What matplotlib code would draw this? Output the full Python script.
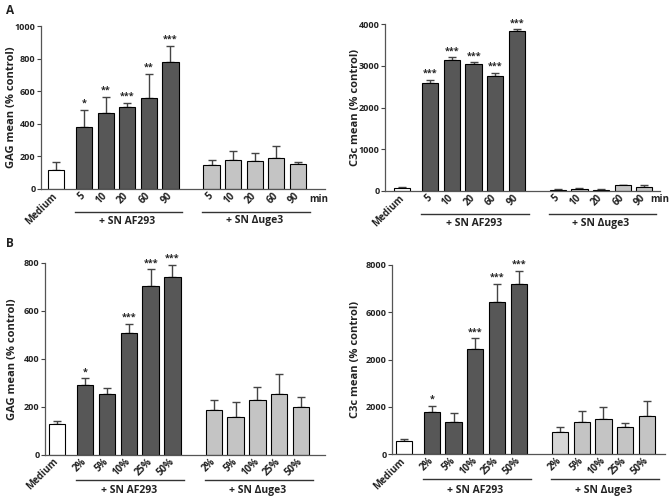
import matplotlib
matplotlib.use("Agg")
import matplotlib.pyplot as plt
import matplotlib.transforms as mtransforms
import numpy as np

plt.rcParams['font.family'] = ['Open Sans', 'DejaVu Sans']
plt.rcParams['font.weight'] = 'bold'
plt.rcParams['axes.labelweight'] = 'bold'

# ---- data ----
time_labels = ['5', '10', '20', '60', '90']
dose_labels = ['2%', '5%', '10%', '25%', '50%']

a_gag_med, a_gag_med_err = 117, 51
a_gag_af = [382, 464, 501, 556, 779]
a_gag_af_err = [103, 102, 29, 152, 98]
a_gag_uge = [145, 178, 174, 192, 153]
a_gag_uge_err = [31, 53, 45, 72, 11]
a_gag_stars = ['*', '**', '***', '**', '***']

a_c3c_med, a_c3c_med_err = 80, 25
a_c3c_af = [2600, 3140, 3040, 2750, 3830]
a_c3c_af_err = [60, 70, 50, 85, 50]
a_c3c_uge = [20, 45, 30, 135, 105]
a_c3c_uge_err = [25, 15, 10, 20, 40]
a_c3c_stars = ['***', '***', '***', '***', '***']

b_gag_med, b_gag_med_err = 130, 12
b_gag_af = [290, 253, 508, 705, 740]
b_gag_af_err = [28, 27, 38, 67, 50]
b_gag_uge = [187, 157, 229, 253, 200]
b_gag_uge_err = [42, 62, 53, 82, 42]
b_gag_stars = ['*', '', '***', '***', '***']

b_c3c_med, b_c3c_med_err = 540, 110
b_c3c_af = [1780, 1370, 4450, 6440, 7190]
b_c3c_af_err = [250, 350, 440, 750, 570]
b_c3c_uge = [930, 1350, 1500, 1140, 1610]
b_c3c_uge_err = [200, 465, 480, 170, 635]
b_c3c_stars = ['*', '', '***', '***', '***']

DARK = '#575757'
LIGHT = '#c4c4c4'
TXT = '#222222'
W, H = 669, 499

fig = plt.figure(figsize=(W / 100, H / 100), dpi=100)


def px_axes(left, right, bottom, top):
    # pixel box -> figure fraction
    return fig.add_axes([left / W, (H - bottom) / H, (right - left) / W, (bottom - top) / H])


def panel(box, xlim, med, med_err, af, af_err, uge, uge_err, stars, ylim, yticks,
          ylabel, label_x, cond, unit_x=None, ytlabels=None, line_y=0, text_y=0,
          uge_colors=None):
    ax = px_axes(*box)
    af_x = 1.3 + np.arange(len(af))
    uge_x = 7.2 + np.arange(len(uge))
    bw = 0.75
    ax.bar([0], [med], bw, color='white', edgecolor='black', lw=0.8, zorder=2)
    ax.bar(af_x, af, bw, color=DARK, edgecolor='black', lw=0.8, zorder=2)
    ax.bar(uge_x, uge, bw, color=uge_colors or LIGHT, edgecolor='black', lw=0.8, zorder=2)
    allx = np.r_[0, af_x, uge_x]
    ally = np.r_[med, af, uge]
    alle = np.r_[med_err, af_err, uge_err]
    ax.errorbar(allx, ally, yerr=[np.zeros_like(alle), alle], fmt='none',
                ecolor='#444444', elinewidth=1, capsize=3, capthick=1, zorder=1)
    for x, y, e, s in zip(af_x, af, af_err, stars):
        if s:
            ax.annotate(s, (x, y + e), xytext=(0, 1.5), textcoords='offset points',
                        ha='center', va='bottom', fontsize=6.5, color=TXT)
    ax.set_xlim(*xlim)
    ax.set_ylim(*ylim)
    ax.set_yticks(yticks)
    if ytlabels is not None:
        ax.set_yticklabels(ytlabels)
    ax.set_xticks(allx)
    ax.set_xticklabels(['Medium'] + cond + cond, rotation=45, ha='right', va='center',
                       rotation_mode='anchor', fontsize=7, color=TXT)
    shift = mtransforms.ScaledTranslation(6 / 100, -3 / 100, fig.dpi_scale_trans)
    for lab in ax.get_xticklabels():
        lab.set_transform(lab.get_transform() + shift)
    ax.tick_params(axis='x', length=0, pad=4)
    ax.tick_params(axis='y', length=3, width=0.8, color='#444444', labelsize=6.5,
                   labelcolor=TXT, pad=1)
    for s in ['top', 'right']:
        ax.spines[s].set_visible(False)
    for s in ['left', 'bottom']:
        ax.spines[s].set_color('#555555')
        ax.spines[s].set_linewidth(0.9)
    ax.set_ylabel(ylabel, fontsize=8, color=TXT, va='center')
    ax.yaxis.set_label_coords(label_x / W, 0.5,
                              transform=mtransforms.blended_transform_factory(
                                  fig.transFigure, ax.transAxes))
    tr = mtransforms.blended_transform_factory(ax.transData, fig.transFigure)
    ly = (H - line_y) / H
    ty = (H - text_y) / H
    for xs, name in [(af_x, '+ SN AF293'), (uge_x, '+ SN \u0394uge3')]:
        ax.plot([xs[0] - 0.42, xs[-1] + 0.55], [ly, ly], transform=tr, color='#333333',
                lw=1, clip_on=False)
        ax.text((xs[0] + xs[-1]) / 2, ty, name, transform=tr, ha='center', va='center',
                fontsize=7.5, color=TXT)
    if unit_x:
        fig.text(unit_x / W, (H - 200) / H, 'min', ha='left', va='center',
                 fontsize=7, color=TXT)
    return ax


panel((41, 325, 189, 26), (-0.69, 12.45), a_gag_med, a_gag_med_err, a_gag_af, a_gag_af_err,
      a_gag_uge, a_gag_uge_err, a_gag_stars, (0, 1000), np.arange(0, 1001, 200),
      'GAG mean (% control)', 12, time_labels, unit_x=309, line_y=211.7, text_y=221)

panel((385, 660, 191, 24.3), (-0.8, 11.93), a_c3c_med, a_c3c_med_err, a_c3c_af, a_c3c_af_err,
      a_c3c_uge, a_c3c_uge_err, a_c3c_stars, (0, 4000), np.arange(0, 4001, 1000),
      'C3c mean (% control)', 355, time_labels, unit_x=650, line_y=214.3, text_y=223.3)

panel((45, 325, 454.7, 262.7), (-0.54, 12.3), b_gag_med, b_gag_med_err, b_gag_af, b_gag_af_err,
      b_gag_uge, b_gag_uge_err, b_gag_stars, (0, 800), np.arange(0, 801, 200),
      'GAG mean (% control)', 13, dose_labels, line_y=480, text_y=490.7)

panel((392, 665, 454, 265), (-0.54, 12.04), b_c3c_med, b_c3c_med_err, b_c3c_af, b_c3c_af_err,
      b_c3c_uge, b_c3c_uge_err, b_c3c_stars, (0, 8000), np.arange(0, 8001, 2000),
      'C3c mean (% control)', 355, dose_labels, ytlabels=['0', '2000', '2000', '6000', '8000'],
      line_y=479.3, text_y=490.3,
      uge_colors=['#d6d6d6', LIGHT, LIGHT, LIGHT, LIGHT])

fig.text(6 / W, (H - 10) / H, 'A', fontsize=8.5, color=TXT, va='center', ha='left')
fig.text(6 / W, (H - 243) / H, 'B', fontsize=8.5, color=TXT, va='center', ha='left')

fig.savefig('out.png', dpi=100)
